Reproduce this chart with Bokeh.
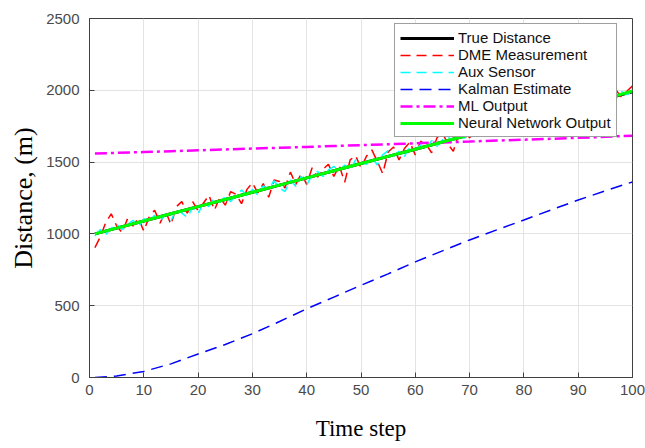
from bokeh.plotting import figure
from bokeh.models import Range1d, Legend, LegendItem, FixedTicker, ColumnDataSource, Title
from bokeh.embed import file_html
from bokeh.resources import INLINE

# ---------------- data ----------------
steps = list(range(1, 101))

dme_measurement = [
    905, 980, 1080, 1140, 1055, 1010, 1105, 1055, 1110, 1020,
    1120, 1165, 1075, 1160, 1065, 1190, 1225, 1145, 1225, 1160,
    1215, 1270, 1165, 1255, 1200, 1295, 1275, 1210, 1310, 1355,
    1285, 1350, 1255, 1375, 1365, 1320, 1430, 1345, 1420, 1345,
    1460, 1395, 1450, 1485, 1400, 1475, 1360, 1515, 1545, 1460,
    1540, 1585, 1505, 1420, 1570, 1605, 1515, 1595, 1640, 1550,
    1645, 1625, 1565, 1670, 1705, 1625, 1575, 1700, 1715, 1670,
    1715, 1750, 1690, 1740, 1765, 1735, 1790, 1745, 1800, 1825,
    1790, 1825, 1790, 1855, 1880, 1830, 1870, 1900, 1855, 1905,
    1935, 1895, 1940, 1900, 1965, 1960, 2000, 1950, 1995, 2030,
]

aux_sensor = [
    985, 1030, 995, 1040, 1070, 1030, 1065, 1095, 1050, 1105,
    1090, 1130, 1085, 1140, 1090, 1175, 1145, 1115, 1185, 1140,
    1215, 1190, 1250, 1220, 1260, 1225, 1270, 1305, 1265, 1310,
    1270, 1335, 1315, 1370, 1320, 1295, 1375, 1330, 1400, 1340,
    1410, 1435, 1400, 1445, 1470, 1440, 1480, 1445, 1515, 1500,
    1485, 1535, 1480, 1550, 1580, 1540, 1575, 1540, 1605, 1585,
    1620, 1595, 1650, 1610, 1655, 1675, 1650, 1690, 1665, 1715,
    1680, 1725, 1750, 1720, 1760, 1725, 1770, 1800, 1765, 1810,
    1770, 1825, 1845, 1810, 1850, 1880, 1845, 1890, 1855, 1905,
    1925, 1900, 1940, 1910, 1950, 1975, 1945, 1990, 1970, 1995,
]

coarse_steps = [1, 5, 10, 15, 20, 25, 30, 35, 40, 45, 50,
                55, 60, 65, 70, 75, 80, 85, 90, 95, 100]
true_distance = [1000, 1040, 1090, 1140, 1190, 1240, 1290, 1340, 1390, 1440, 1490,
                 1540, 1590, 1640, 1690, 1740, 1790, 1840, 1890, 1940, 1990]
kalman_estimate = [0, 10, 42, 95, 164, 230, 305, 390, 478, 560, 642,
                   722, 805, 882, 958, 1028, 1097, 1167, 1236, 1300, 1362]
ml_output = [1560, 1564, 1570, 1576, 1582, 1588, 1594, 1600, 1606, 1612, 1618,
             1624, 1631, 1637, 1643, 1650, 1656, 1662, 1669, 1676, 1684]
nn_output = [1000, 1040, 1090, 1140, 1190, 1240, 1290, 1340, 1390, 1440, 1490,
             1540, 1590, 1640, 1690, 1740, 1790, 1840, 1890, 1940, 1995]

x_ticks = [0, 10, 20, 30, 40, 50, 60, 70, 80, 90, 100]
y_ticks = [0, 500, 1000, 1500, 2000, 2500]

# ---------------- figure ----------------
p = figure(width=645, height=448, output_backend="svg", toolbar_location=None,
           x_range=Range1d(0, 100), y_range=Range1d(0, 2500),
           min_border_left=88, min_border_right=13, min_border_top=18, min_border_bottom=71,
           background_fill_color="white", border_fill_color="white")

fine = ColumnDataSource(dict(t=steps, dme=dme_measurement, aux=aux_sensor))
coarse = ColumnDataSource(dict(t=coarse_steps, true=true_distance, kal=kalman_estimate,
                               ml=ml_output, nn=nn_output))

r_true = p.line("t", "true", source=coarse, line_color="black", line_width=3)
r_dme = p.line("t", "dme", source=fine, line_color="#ff0000", line_width=1.5, line_dash="10 6")
r_aux = p.line("t", "aux", source=fine, line_color="#00ffff", line_width=1.5, line_dash="10 6")
r_kal = p.line("t", "kal", source=coarse, line_color="#0000ff", line_width=1.5, line_dash="12 7")
r_ml = p.line("t", "ml", source=coarse, line_color="#ff00ff", line_width=2.5, line_dash="12 4 3 4")
r_nn = p.line("t", "nn", source=coarse, line_color="#00ff00", line_width=3)

# axes
for ax in (p.xaxis[0], p.yaxis[0]):
    ax.major_tick_in = 5
    ax.major_tick_out = 0
    ax.minor_tick_in = 0
    ax.minor_tick_out = 0
    ax.axis_line_color = "#404040"
    ax.major_tick_line_color = "#404040"
    ax.major_label_text_font = "Liberation Sans"
    ax.major_label_text_font_size = "15px"
    ax.major_label_text_color = "#4a4a4a"

p.xaxis[0].ticker = FixedTicker(ticks=x_ticks)
p.yaxis[0].ticker = FixedTicker(ticks=y_ticks)
p.xaxis[0].axis_label = "Time step"
p.xaxis[0].axis_label_text_font = "Liberation Serif"
p.xaxis[0].axis_label_text_font_style = "normal"
p.xaxis[0].axis_label_text_color = "black"
p.xaxis[0].axis_label_text_font_size = "23px"
p.xaxis[0].major_label_standoff = 7
p.yaxis[0].major_label_standoff = 10
p.xaxis[0].axis_label_standoff = 18

ylab = Title(text="Distance, (m)", align="center", offset=-58, standoff=12,
             text_font="Liberation Serif", text_font_size="26px",
             text_font_style="normal", text_color="black")
p.add_layout(ylab, "left")

p.outline_line_color = "#404040"
p.xgrid.grid_line_color = "#e3e3e3"
p.ygrid.grid_line_color = "#e3e3e3"
p.xgrid.ticker = FixedTicker(ticks=x_ticks)
p.ygrid.ticker = FixedTicker(ticks=y_ticks)

legend = Legend(items=[
    LegendItem(label="True Distance", renderers=[r_true]),
    LegendItem(label="DME Measurement", renderers=[r_dme]),
    LegendItem(label="Aux Sensor", renderers=[r_aux]),
    LegendItem(label="Kalman Estimate", renderers=[r_kal]),
    LegendItem(label="ML Output", renderers=[r_ml]),
    LegendItem(label="Neural Network Output", renderers=[r_nn]),
], location=(305, 240))
legend.label_text_font = "Liberation Sans"
legend.label_text_font_size = "15px"
legend.label_text_color = "#111111"
legend.glyph_width = 54
legend.glyph_height = 16
legend.label_height = 16
legend.label_standoff = 4
legend.spacing = 0
legend.padding = 5
legend.margin = 0
legend.border_line_color = "#404040"
legend.border_line_width = 1
legend.background_fill_color = "white"
legend.background_fill_alpha = 1
p.add_layout(legend, "center")

open("out.html", "w").write(file_html(p, INLINE))
